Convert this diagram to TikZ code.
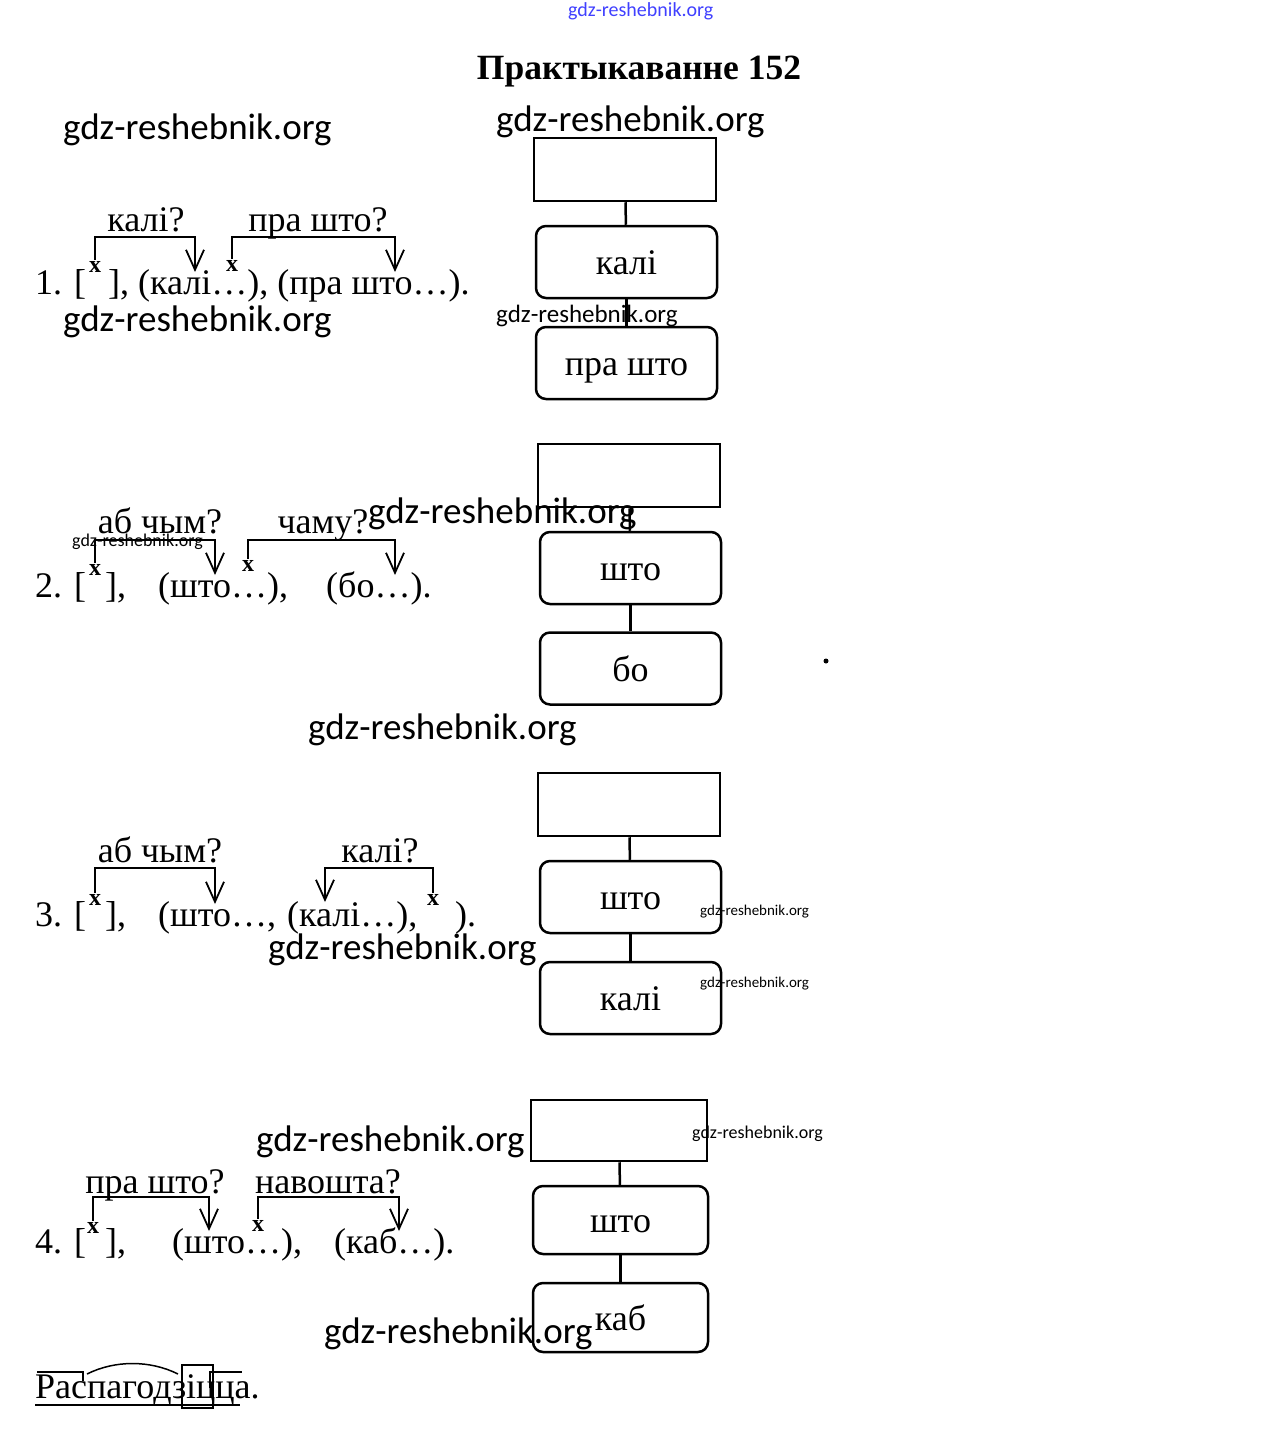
\documentclass[tikz,border=0pt]{standalone}
\usepackage{fontspec}
\setmainfont{Liberation Serif}
\newfontfamily\wmfont{Carlito}
\usetikzlibrary{arrows.meta}

\tikzset{
  word/.style={anchor=base west, inner sep=0pt, font=\fontsize{36}{40}\selectfont},
  qlabel/.style={anchor=base, inner sep=0pt, font=\fontsize{36}{40}\selectfont},
  xmark/.style={inner sep=1.5pt, font=\bfseries\fontsize{24}{24}\selectfont},
  link/.style={line width=1.8pt, -{Straight Barb[length=20pt,width=18pt,line width=1.8pt]}},
  plainbox/.style={draw, line width=2.5pt, minimum width=182pt, minimum height=63pt},
  wordbox/.style={draw, line width=2.5pt, rounded corners=10pt, minimum width=181pt,
    minimum height=72pt, text height=32pt, text depth=7pt, font=\fontsize{36}{40}\selectfont},
  joint/.style={line width=2.5pt},
  morph/.style={line width=1.5pt},
  wm/.style={anchor=base west, inner sep=0pt}
}

\begin{document}
\begin{tikzpicture}[x=1pt, y=-1pt]

    \useasboundingbox[fill=white] (0,0) rectangle (1281,1437);

    \node[anchor=base, font=\bfseries\fontsize{35.5}{38}\selectfont] (title) at (639,80) {Практыкаванне 152};

    % ---- 1 ----
    \node[word] (s1a) at (35,294) {1. [};
    \node[xmark] (x1a) at (95,267) {x};
    \node[word] (s1b) at (108,294) {], (калі…), (пра што…).};
    \node[xmark] (x1b) at (232,266) {x};

    \coordinate (c1a) at (195,237);
    \coordinate (t1a) at (195,272);
    \coordinate (c1b) at (395,237);
    \coordinate (t1b) at (395,272);
    \draw[link] (x1a.north) |- (c1a) -- (t1a);
    \draw[link] (x1b.north) |- (c1b) -- (t1b);
    \node[qlabel] (q1a) at (146,231) {калі?};
    \node[qlabel] (q1b) at (318,231) {пра што?};

    \node[plainbox] (r1) at (625,169.5) {};
    \node[wordbox] (b1a) at (626.5,262) {калі};
    \node[wordbox] (b1b) at (626.5,363) {пра што};
    \draw[joint] (r1) -- (b1a);
    \draw[joint] (b1a) -- (b1b);

    % ---- 2 ----
    \node[word] (s2a) at (35,597) {2. [};
    \node[xmark] (x2a) at (95,570) {x};
    \node[word] (s2b) at (105,597) {],};
    \node[word] (s2c) at (158,597) {(што…),};
    \node[xmark] (x2b) at (248,566) {x};
    \node[word] (s2d) at (326,597) {(бо…).};

    \coordinate (c2a) at (215,540);
    \coordinate (t2a) at (215,575);
    \coordinate (c2b) at (395,540);
    \coordinate (t2b) at (395,575);
    \draw[link] (x2a.north) |- (c2a) -- (t2a);
    \draw[link] (x2b.north) |- (c2b) -- (t2b);
    \node[qlabel] (q2a) at (160,533) {аб чым?};
    \node[qlabel] (q2b) at (323,533) {чаму?};

    \node[plainbox] (r2) at (629,475.5) {};
    \node[wordbox] (b2a) at (630.5,568) {што};
    \node[wordbox] (b2b) at (630.5,668.5) {бо};
    \draw[joint] (r2) -- (b2a);
    \draw[joint] (b2a) -- (b2b);
    \fill (826,661) circle (2.5);

    % ---- 3 ----
    \node[word] (s3a) at (35,926) {3. [};
    \node[xmark] (x3a) at (95,900) {x};
    \node[word] (s3b) at (105,926) {],};
    \node[word] (s3c) at (158,926) {(што…,};
    \node[word] (s3d) at (287,926) {(калі…),};
    \node[xmark] (x3b) at (433,900) {x};
    \node[word] (s3e) at (455,926) {).};

    \coordinate (c3a) at (215,868);
    \coordinate (t3a) at (215,904);
    \coordinate (c3b) at (325,868);
    \coordinate (t3b) at (325,902);
    \draw[link] (x3a.north) |- (c3a) -- (t3a);
    \draw[link] (x3b.north) |- (c3b) -- (t3b);
    \node[qlabel] (q3a) at (160,862) {аб чым?};
    \node[qlabel] (q3b) at (380,862) {калі?};

    \node[plainbox] (r3) at (629,804.5) {};
    \node[wordbox] (b3a) at (630.5,897) {што};
    \node[wordbox] (b3b) at (630.5,998) {калі};
    \draw[joint] (r3) -- (b3a);
    \draw[joint] (b3a) -- (b3b);

    % ---- 4 ----
    \node[word] (s4a) at (35,1253) {4. [};
    \node[xmark] (x4a) at (93,1228) {x};
    \node[word] (s4b) at (105,1253) {],};
    \node[word] (s4c) at (172,1253) {(што…),};
    \node[xmark] (x4b) at (258,1226) {x};
    \node[word] (s4d) at (334,1253) {(каб…).};

    \coordinate (c4a) at (209,1197);
    \coordinate (t4a) at (209,1231);
    \coordinate (c4b) at (399,1197);
    \coordinate (t4b) at (399,1231);
    \draw[link] (x4a.north) |- (c4a) -- (t4a);
    \draw[link] (x4b.north) |- (c4b) -- (t4b);
    \node[qlabel] (q4a) at (155,1193) {пра што?};
    \node[qlabel] (q4b) at (328,1193) {навошта?};

    \node[plainbox, minimum width=176pt, minimum height=61pt] (r4) at (619,1130.5) {};
    \node[wordbox, minimum width=175pt, minimum height=68pt] (b4a) at (620.5,1220) {што};
    \node[wordbox, minimum width=175pt, minimum height=69pt] (b4b) at (620.5,1317.5) {каб};
    \draw[joint] (r4) -- (b4a);
    \draw[joint] (b4a) -- (b4b);

    % ---- word parse ----
    \node[word] (parse) at (35,1398) {Распагодзіцца.};
    \draw[morph] (37,1372) -- (83,1372) -- (83,1381);
    \draw[morph] (87,1374) .. controls (115,1360) and (150,1360) .. (178,1374);
    \draw[morph] (182,1365) rectangle (213,1408);
    \draw[morph] (210,1388) -- (210,1372) -- (242,1372);
    \draw[morph] (35,1405) -- (240,1405);

    % watermarks
    \node[wm, font=\wmfont\fontsize{20}{20}\selectfont, text=blue!75] (wm0) at (568,17) {gdz-reshebnik.org};
    \foreach \wx/\wy/\ws [count=\i] in {63/139/37, 496/131/37, 63/331/37, 496/322/25,
        368/523/37, 72/546/18, 308/739/37, 268/959/37, 700/915/15, 700/987/15,
        256/1151/37, 692/1138/18, 324/1343/37}
        \node[wm, font=\wmfont\fontsize{\ws}{\ws}\selectfont] (wm\i) at (\wx,\wy) {gdz-reshebnik.org};

\end{tikzpicture}
\end{document}
